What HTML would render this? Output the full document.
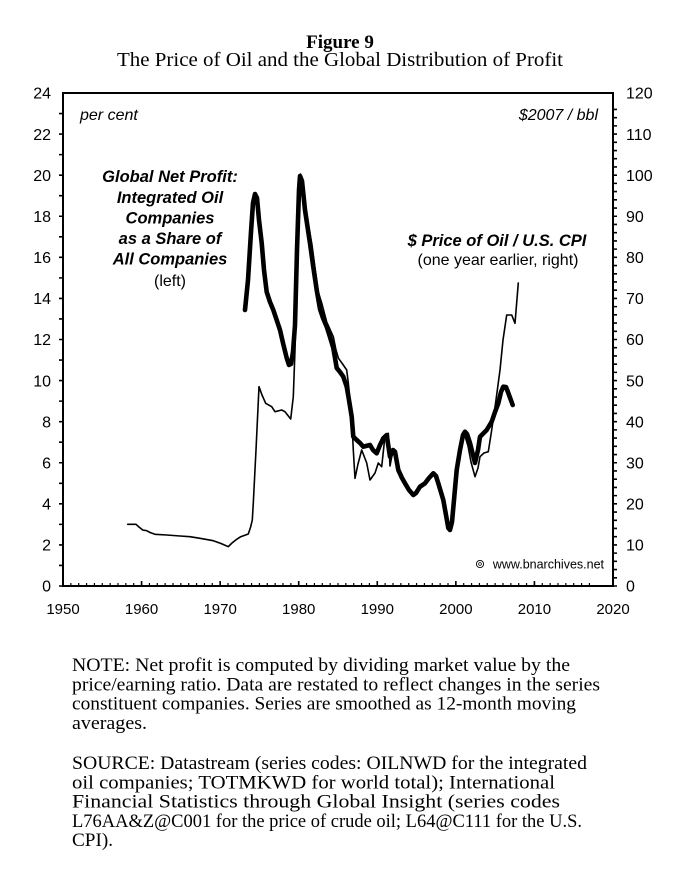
<!DOCTYPE html>
<html><head><meta charset="utf-8"><style>
html,body{margin:0;padding:0;background:#fff;}
svg{display:block;}
.ax{font-family:"Liberation Sans",Arial,sans-serif;font-size:16px;fill:#000;}
.ser{font-family:"Liberation Serif","Times New Roman",serif;fill:#000;}
</style></head><body>
<svg width="679" height="887" viewBox="0 0 679 887" xmlns="http://www.w3.org/2000/svg">
<rect width="679" height="887" fill="#fff"/>
<text class="ser" x="340" y="48" text-anchor="middle" font-size="19" font-weight="bold">Figure 9</text>
<text class="ser" x="340" y="66" text-anchor="middle" font-size="20" textLength="446" lengthAdjust="spacingAndGlyphs">The Price of Oil and the Global Distribution of Profit</text>

<rect x="63" y="93" width="550" height="493" fill="none" stroke="#000" stroke-width="2"/>
<path fill="none" stroke="#000" stroke-width="1.6" d="M59,586h4m-4,-20.5417h4m-4,-20.5417h4m-4,-20.5417h4m-4,-20.5417h4m-4,-20.5417h4m-4,-20.5417h4m-4,-20.5417h4m-4,-20.5417h4m-4,-20.5417h4m-4,-20.5417h4m-4,-20.5417h4m-4,-20.5417h4m-4,-20.5417h4m-4,-20.5417h4m-4,-20.5417h4m-4,-20.5417h4m-4,-20.5417h4m-4,-20.5417h4m-4,-20.5417h4m-4,-20.5417h4m-4,-20.5417h4m-4,-20.5417h4m-4,-20.5417h4"/>
<path fill="none" stroke="#000" stroke-width="1.6" d="M613,586h4m-4,-8.2167h4m-4,-8.2167h4m-4,-8.2167h4m-4,-8.2167h4m-4,-8.2167h4m-4,-8.2167h4m-4,-8.2167h4m-4,-8.2167h4m-4,-8.2167h4m-4,-8.2167h4m-4,-8.2167h4m-4,-8.2167h4m-4,-8.2167h4m-4,-8.2167h4m-4,-8.2167h4m-4,-8.2167h4m-4,-8.2167h4m-4,-8.2167h4m-4,-8.2167h4m-4,-8.2167h4m-4,-8.2167h4m-4,-8.2167h4m-4,-8.2167h4m-4,-8.2167h4m-4,-8.2167h4m-4,-8.2167h4m-4,-8.2167h4m-4,-8.2167h4m-4,-8.2167h4m-4,-8.2167h4m-4,-8.2167h4m-4,-8.2167h4m-4,-8.2167h4m-4,-8.2167h4m-4,-8.2167h4m-4,-8.2167h4m-4,-8.2167h4m-4,-8.2167h4m-4,-8.2167h4m-4,-8.2167h4m-4,-8.2167h4m-4,-8.2167h4m-4,-8.2167h4m-4,-8.2167h4m-4,-8.2167h4m-4,-8.2167h4m-4,-8.2167h4m-4,-8.2167h4m-4,-8.2167h4m-4,-8.2167h4m-4,-8.2167h4m-4,-8.2167h4m-4,-8.2167h4m-4,-8.2167h4m-4,-8.2167h4m-4,-8.2167h4m-4,-8.2167h4m-4,-8.2167h4"/>
<path fill="none" stroke="#000" stroke-width="1.2" d="M63,586v-3m7.8571,3v-3m7.8571,3v-3m7.8571,3v-3m7.8571,3v-3m7.8571,3v-3m7.8571,3v-3m7.8571,3v-3m7.8571,3v-3m7.8571,3v-3m7.8571,3v-3m7.8571,3v-3m7.8571,3v-3m7.8571,3v-3m7.8571,3v-3m7.8571,3v-3m7.8571,3v-3m7.8571,3v-3m7.8571,3v-3m7.8571,3v-3m7.8571,3v-3m7.8571,3v-3m7.8571,3v-3m7.8571,3v-3m7.8571,3v-3m7.8571,3v-3m7.8571,3v-3m7.8571,3v-3m7.8571,3v-3m7.8571,3v-3m7.8571,3v-3m7.8571,3v-3m7.8571,3v-3m7.8571,3v-3m7.8571,3v-3m7.8571,3v-3m7.8571,3v-3m7.8571,3v-3m7.8571,3v-3m7.8571,3v-3m7.8571,3v-3m7.8571,3v-3m7.8571,3v-3m7.8571,3v-3m7.8571,3v-3m7.8571,3v-3m7.8571,3v-3m7.8571,3v-3m7.8571,3v-3m7.8571,3v-3m7.8571,3v-3m7.8571,3v-3m7.8571,3v-3m7.8571,3v-3m7.8571,3v-3m7.8571,3v-3m7.8571,3v-3m7.8571,3v-3m7.8571,3v-3m7.8571,3v-3m7.8571,3v-3m7.8571,3v-3m7.8571,3v-3m7.8571,3v-3m7.8571,3v-3m7.8571,3v-3m7.8571,3v-3m7.8571,3v-3"/>
<path fill="none" stroke="#000" stroke-width="1.6" d="M63,586v-5m78.571,5v-5m78.571,5v-5m78.571,5v-5m78.571,5v-5m78.571,5v-5m78.571,5v-5m78.571,5v-5"/>

<g class="ax" text-anchor="end">
<text x="51" y="591.7">0</text>
<text x="51" y="550.6">2</text>
<text x="51" y="509.5">4</text>
<text x="51" y="468.4">6</text>
<text x="51" y="427.4">8</text>
<text x="51" y="386.3">10</text>
<text x="51" y="345.2">12</text>
<text x="51" y="304.1">14</text>
<text x="51" y="263.0">16</text>
<text x="51" y="222.0">18</text>
<text x="51" y="180.9">20</text>
<text x="51" y="139.8">22</text>
<text x="51" y="98.7">24</text>
</g>
<g class="ax" text-anchor="start">
<text x="626" y="591.7">0</text>
<text x="626" y="550.6">10</text>
<text x="626" y="509.5">20</text>
<text x="626" y="468.4">30</text>
<text x="626" y="427.4">40</text>
<text x="626" y="386.3">50</text>
<text x="626" y="345.2">60</text>
<text x="626" y="304.1">70</text>
<text x="626" y="263.0">80</text>
<text x="626" y="222.0">90</text>
<text x="626" y="180.9">100</text>
<text x="626" y="139.8">110</text>
<text x="626" y="98.7">120</text>
</g>
<g class="ax" text-anchor="middle" style="font-size:15px">
<text x="63" y="614">1950</text>
<text x="141.57" y="614">1960</text>
<text x="220.14" y="614">1970</text>
<text x="298.71" y="614">1980</text>
<text x="377.29" y="614">1990</text>
<text x="455.86" y="614">2000</text>
<text x="534.43" y="614">2010</text>
<text x="613" y="614">2020</text>
</g>

<text class="ax" x="80" y="120" font-style="italic">per cent</text>
<text class="ax" x="598" y="120" font-style="italic" text-anchor="end">$2007 / bbl</text>

<g class="ax" text-anchor="middle" font-weight="bold" font-style="italic" style="font-size:16.5px">
<text x="170" y="182">Global Net Profit:</text>
<text x="170" y="203">Integrated Oil</text>
<text x="170" y="223.5">Companies</text>
<text x="170" y="244">as a Share of</text>
<text x="170" y="264.5">All Companies</text>
</g>
<text class="ax" x="170" y="286" text-anchor="middle">(left)</text>

<text class="ax" x="497" y="246" text-anchor="middle" font-weight="bold" font-style="italic" style="font-size:16.5px">$ Price of Oil / U.S. CPI</text>
<text class="ax" x="498" y="265" text-anchor="middle">(one year earlier, right)</text>

<circle cx="480" cy="564" r="3.6" fill="none" stroke="#000" stroke-width="0.9"/>
<circle cx="480" cy="564" r="1.4" fill="none" stroke="#000" stroke-width="0.7"/>
<text class="ax" x="604" y="568.5" text-anchor="end" style="font-size:12.5px">www.bnarchives.net</text>

<!-- thin: oil price -->
<polyline fill="none" stroke="#000" stroke-width="1.6" stroke-linejoin="round" stroke-linecap="round" points="127.7,524.3 136,524.3 139,527 142.7,530 146.7,530.7 150,532.5 155,534.3 166.7,535 180,536 190,536.7 200,538.3 213.3,540.7 221,543.5 228.3,546.7 232,543 236.7,539.3 240.7,536.7 248.3,534 250.7,526.7 252.3,520 253.3,503 256,450 259,386.7 262,395 265.7,403.3 271.7,406.7 275,411.7 281.7,410 285,411.7 290.7,419 293.3,396.7 295,350 297,265 299,192 300.5,174 303,182 306,212 309,228 312,245 315,268 318.3,292 321.7,303 326.7,322 333.3,336.7 336,350 338.5,358.3 343.3,365 346.7,370 348.3,383 351.7,416.7 353.3,450 355,478.3 358,464 361.7,450 366.7,463 370,480 375,473 378.3,463 381.7,466.7 385,436 388.3,433.3 390,466 393,450 395,452 398.3,470 402,479 405,484 409,491 413,494 416,492 420,487 425,482 429,478 433,474 436,477 438.3,482 443,499 446,514 448.3,527 450,530 452,520 456.7,474 460,450 463,437 465,436 468,446 471,462 475,476.7 478,468 480,456.7 484,453 488.3,451.7 491.7,430 496,400 500,370 503,340 506.7,315 511.7,315 515,323.3 518.3,283"/>
<!-- thick: profit share -->
<polyline fill="none" stroke="#000" stroke-width="4.6" stroke-linejoin="round" stroke-linecap="round" points="245,310 248,280 251,232 253,203 255,194 257,198 259,220 261.7,243 264,270 266.7,292 270,302 273.3,310 276,318 280,330 283,343 286.7,358 289,365 291,364 293,352 295,325 297,250 299,190 300,176 302,181 305,210 308,230 310,243.3 313,265 316.7,290 320,309 323,318 326.7,326.7 330,337 333.3,348 336.7,368 340,372 343.3,376.7 346.7,386.7 349,400 351.7,416.7 353.3,436.7 356.7,440 360,443 363.3,446.7 366,446 370,445 373,450 376.7,453.3 380,445 383.3,438.3 386.7,435 390,456.7 393,450 395,451.7 398.3,470 402,478 405,483.3 409,490 413.3,495 416,493 420,486.7 425,483.3 429,478 433.3,473.3 436,476 438.3,483.3 443.3,500 446,515 448.3,528 450,530 452,522 456.7,470 460,450 463,435 465,431.7 467,434 470,443 473,455 475,463 478,450 480,436.7 486.7,430 491.7,421.7 495,412 498.3,403.3 501,392 503.3,386.7 506,387 508.3,393 512.7,405"/>

<g class="ser" font-size="18.5">
<text x="72" y="671" textLength="498" lengthAdjust="spacingAndGlyphs">NOTE: Net profit is computed by dividing market value by the</text>
<text x="72" y="690.3" textLength="528" lengthAdjust="spacingAndGlyphs">price/earning ratio. Data are restated to reflect changes in the series</text>
<text x="72" y="709.6" textLength="504" lengthAdjust="spacingAndGlyphs">constituent companies. Series are smoothed as 12-month moving</text>
<text x="72" y="728.9" textLength="75" lengthAdjust="spacingAndGlyphs">averages.</text>
<text x="72" y="769" textLength="515" lengthAdjust="spacingAndGlyphs">SOURCE: Datastream (series codes: OILNWD for the integrated</text>
<text x="72" y="788.3" textLength="483" lengthAdjust="spacingAndGlyphs">oil companies; TOTMKWD for world total); International</text>
<text x="72" y="807.6" textLength="488" lengthAdjust="spacingAndGlyphs">Financial Statistics through Global Insight (series codes</text>
<text x="72" y="826.9" textLength="510" lengthAdjust="spacingAndGlyphs">L76AA&amp;Z@C001 for the price of crude oil; L64@C111 for the U.S.</text>
<text x="72" y="846.2" textLength="41" lengthAdjust="spacingAndGlyphs">CPI).</text>
</g>
</svg>
</body></html>
